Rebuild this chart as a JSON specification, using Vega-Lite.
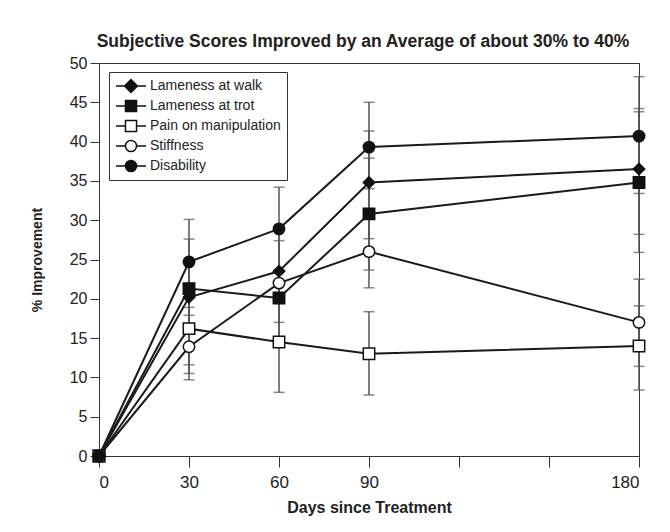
{
  "$schema": "https://vega.github.io/schema/vega-lite/v6.json",
  "autosize": {"type": "none"},
  "width": 540,
  "height": 393,
  "padding": {"left": 99, "top": 63, "right": 31, "bottom": 76},
  "background": "white",
  "title": {
    "text": "Subjective Scores Improved by an Average of about 30% to 40%",
    "font": "Liberation Sans, Arial, sans-serif",
    "fontSize": 17.5,
    "fontWeight": "bold",
    "color": "#222",
    "offset": 5,
    "anchor": "middle",
    "dx": -6
  },
  "config": {
    "view": {"stroke": "#333", "strokeWidth": 1},
    "font": "Liberation Sans, Arial, sans-serif",
    "axis": {
      "grid": false,
      "domainColor": "#333",
      "tickColor": "#333",
      "labelColor": "#222",
      "labelFont": "Liberation Sans, Arial, sans-serif",
      "labelOverlap": false,
      "titleFont": "Liberation Sans, Arial, sans-serif",
      "titleFontWeight": "bold",
      "titleColor": "#222"
    },
    "axisY": {
      "values": [0, 5, 10, 15, 20, 25, 30, 35, 40, 45, 50],
      "tickSize": 9,
      "labelPadding": 3,
      "labelFontSize": 16,
      "titleFontSize": 14,
      "titlePadding": 25
    }
  },
  "data": {
    "values": [
      {"day": 0, "series": "Lameness at walk", "value": 0},
      {"day": 30, "series": "Lameness at walk", "value": 20.2, "lo": 11.6, "hi": 24.8},
      {"day": 60, "series": "Lameness at walk", "value": 23.5, "lo": 19.9, "hi": 28.8},
      {"day": 90, "series": "Lameness at walk", "value": 34.8, "lo": 27.65, "hi": 41.35},
      {"day": 180, "series": "Lameness at walk", "value": 36.5, "lo": 28.2, "hi": 43.8},
      {"day": 0, "series": "Lameness at trot", "value": 0},
      {"day": 30, "series": "Lameness at trot", "value": 21.3, "lo": 16.0, "hi": 27.6},
      {"day": 60, "series": "Lameness at trot", "value": 20.1, "lo": 14.6, "hi": 23.7},
      {"day": 90, "series": "Lameness at trot", "value": 30.8, "lo": 23.66, "hi": 37.9},
      {"day": 180, "series": "Lameness at trot", "value": 34.8, "lo": 25.9, "hi": 44.2},
      {"day": 0, "series": "Pain on manipulation", "value": 0},
      {"day": 30, "series": "Pain on manipulation", "value": 16.2, "lo": 10.5, "hi": 21.5},
      {"day": 60, "series": "Pain on manipulation", "value": 14.5, "lo": 8.1, "hi": 21.9},
      {"day": 90, "series": "Pain on manipulation", "value": 13.0, "lo": 7.76, "hi": 18.36},
      {"day": 180, "series": "Pain on manipulation", "value": 14.0, "lo": 8.4, "hi": 19.1},
      {"day": 0, "series": "Stiffness", "value": 0},
      {"day": 30, "series": "Stiffness", "value": 13.9, "lo": 9.7, "hi": 17.9},
      {"day": 60, "series": "Stiffness", "value": 22.0, "lo": 17.0, "hi": 27.4},
      {"day": 90, "series": "Stiffness", "value": 26.0, "lo": 21.4, "hi": 30.8},
      {"day": 180, "series": "Stiffness", "value": 17.0, "lo": 11.4, "hi": 22.5},
      {"day": 0, "series": "Disability", "value": 0},
      {"day": 30, "series": "Disability", "value": 24.7, "lo": 18.9, "hi": 30.1},
      {"day": 60, "series": "Disability", "value": 28.9, "lo": 23.6, "hi": 34.2},
      {"day": 90, "series": "Disability", "value": 39.3, "lo": 34.0, "hi": 45.0},
      {"day": 180, "series": "Disability", "value": 40.7, "lo": 33.4, "hi": 48.26}
    ]
  },
  "encoding": {
    "x": {
      "field": "day",
      "type": "quantitative",
      "scale": {"domain": [0, 180], "nice": false},
      "axis": {
        "title": "Days since Treatment",
        "values": [0, 30, 60, 90, 120, 150, 180],
        "labelExpr": "datum.value == 120 || datum.value == 150 ? '' : datum.label",
        "tickSize": 11,
        "labelPadding": 7,
        "labelFontSize": 17,
        "titleFontSize": 16,
        "titlePadding": 9
      }
    }
  },
  "layer": [
    {
      "transform": [{"filter": "isValid(datum.lo)"}],
      "mark": {"type": "rule", "color": "#555", "strokeWidth": 1.5},
      "encoding": {
        "y": {"field": "lo", "type": "quantitative", "scale": {"domain": [0, 50], "nice": false}, "axis": {"title": "% Improvement"}},
        "y2": {"field": "hi"}
      }
    },
    {
      "transform": [
        {"filter": "isValid(datum.lo)"},
        {"fold": ["lo", "hi"], "as": ["bound", "cap"]}
      ],
      "mark": {"type": "tick", "orient": "horizontal", "color": "#555", "size": 11, "thickness": 1.5},
      "encoding": {
        "y": {"field": "cap", "type": "quantitative", "axis": {"title": "% Improvement"}}
      }
    },
    {
      "mark": {"type": "line", "color": "#1a1a1a", "strokeWidth": 2},
      "encoding": {
        "y": {"field": "value", "type": "quantitative", "axis": {"title": "% Improvement"}},
        "detail": {"field": "series", "type": "nominal"}
      }
    },
    {
      "mark": {"type": "point", "filled": true, "opacity": 1, "stroke": "#111", "strokeWidth": 1.5, "size": 130, "clip": false},
      "encoding": {
        "y": {"field": "value", "type": "quantitative", "axis": {"title": "% Improvement"}},
        "shape": {
          "field": "series",
          "type": "nominal",
          "scale": {
            "domain": ["Lameness at walk", "Lameness at trot", "Pain on manipulation", "Stiffness", "Disability"],
            "range": ["diamond", "square", "square", "circle", "circle"]
          },
          "legend": null
        },
        "fill": {
          "field": "series",
          "type": "nominal",
          "scale": {
            "domain": ["Lameness at walk", "Lameness at trot", "Pain on manipulation", "Stiffness", "Disability"],
            "range": ["#111", "#111", "white", "white", "#111"]
          },
          "legend": null
        }
      }
    },
    {
      "transform": [{"filter": "false"}],
      "mark": {"type": "point", "filled": true, "opacity": 1, "strokeWidth": 1.5},
      "encoding": {
        "y": {"field": "value", "type": "quantitative", "axis": {"title": "% Improvement"}},
        "shape": {
          "field": "series",
          "type": "nominal",
          "scale": {
            "domain": ["Lameness at walk", "Lameness at trot", "Pain on manipulation", "Stiffness", "Disability"],
            "range": [
              "M-1,0H-0.43M0,-0.43L0.43,0L0,0.43L-0.43,0ZM0.43,0H1",
              "M-1,0H-0.37M-0.37,-0.37H0.37V0.37H-0.37ZM0.37,0H1",
              "M-1,0H-0.37M-0.37,-0.37H0.37V0.37H-0.37ZM0.37,0H1",
              "M-1,0H-0.37M-0.37,0A0.37,0.37,0,1,0,0.37,0A0.37,0.37,0,1,0,-0.37,0ZM0.37,0H1",
              "M-1,0H-0.37M-0.37,0A0.37,0.37,0,1,0,0.37,0A0.37,0.37,0,1,0,-0.37,0ZM0.37,0H1"
            ]
          },
          "legend": {
            "orient": "none",
            "legendX": 10,
            "legendY": 9,
            "title": null,
            "symbolSize": 900,
            "symbolStrokeWidth": 1.5,
            "labelFontSize": 14,
            "labelFont": "Liberation Sans, Arial, sans-serif",
            "labelColor": "#222",
            "labelOffset": 3,
            "padding": 6,
            "strokeColor": "#333",
            "fillColor": "white",
            "clipHeight": 16,
            "rowPadding": 4
          }
        },
        "fill": {
          "field": "series",
          "type": "nominal",
          "scale": {
            "domain": ["Lameness at walk", "Lameness at trot", "Pain on manipulation", "Stiffness", "Disability"],
            "range": ["#111", "#111", "white", "white", "#111"]
          }
        },
        "stroke": {
          "field": "series",
          "type": "nominal",
          "scale": {
            "domain": ["Lameness at walk", "Lameness at trot", "Pain on manipulation", "Stiffness", "Disability"],
            "range": ["#111", "#111", "#111", "#111", "#111"]
          }
        }
      }
    }
  ],
  "resolve": {"scale": {"shape": "independent", "fill": "independent", "stroke": "independent"}}
}
